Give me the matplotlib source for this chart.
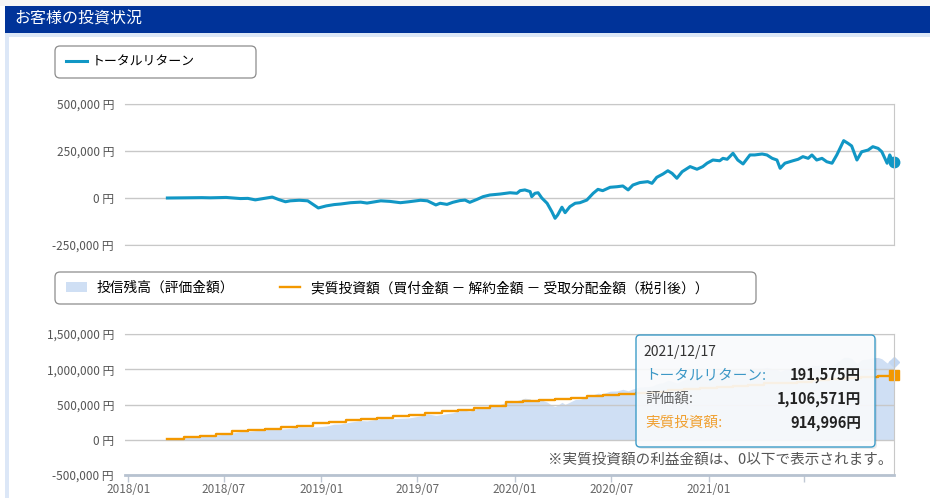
import numpy as np
import pandas as pd
import matplotlib
matplotlib.use("Agg")
import matplotlib.pyplot as plt
from matplotlib.patches import Rectangle, FancyBboxPatch
from matplotlib.ticker import FuncFormatter

plt.rcParams['font.family'] = ['Noto Sans CJK JP', 'DejaVu Sans']

# ---- data ----
ret_dates = [
    "2018-03-16", "2018-04-20", "2018-05-20", "2018-06-05", "2018-07-05", "2018-08-01",
    "2018-08-15", "2018-08-29", "2018-09-15", "2018-09-30", "2018-10-12", "2018-10-25",
    "2018-11-03", "2018-11-20", "2018-12-06", "2018-12-26", "2019-01-10", "2019-01-25",
    "2019-02-06", "2019-02-25", "2019-03-16", "2019-03-28", "2019-04-23", "2019-05-10",
    "2019-05-30", "2019-06-15", "2019-07-07", "2019-07-20", "2019-08-05", "2019-08-13",
    "2019-08-26", "2019-09-06", "2019-09-19", "2019-09-29", "2019-10-08", "2019-10-22",
    "2019-11-02", "2019-11-15", "2019-12-04", "2019-12-23", "2020-01-05", "2020-01-11",
    "2020-01-20", "2020-01-30", "2020-02-02", "2020-02-08", "2020-02-14", "2020-02-21",
    "2020-03-02", "2020-03-11", "2020-03-17", "2020-03-22", "2020-03-30", "2020-04-05",
    "2020-04-14", "2020-04-24", "2020-05-03", "2020-05-16", "2020-05-28", "2020-06-06",
    "2020-06-15", "2020-06-29", "2020-07-12", "2020-07-23", "2020-08-02", "2020-08-11",
    "2020-08-24", "2020-09-08", "2020-09-16", "2020-09-25", "2020-10-07", "2020-10-16",
    "2020-10-24", "2020-11-02", "2020-11-12", "2020-11-27", "2020-12-10", "2020-12-21",
    "2020-12-29", "2021-01-09", "2021-01-22", "2021-01-28", "2021-02-05", "2021-02-16",
    "2021-02-25", "2021-03-07", "2021-03-20", "2021-03-29", "2021-04-12", "2021-04-21",
    "2021-05-01", "2021-05-10", "2021-05-16", "2021-05-25", "2021-06-09", "2021-06-19",
    "2021-06-28", "2021-07-08", "2021-07-15", "2021-07-24", "2021-08-03", "2021-08-12",
    "2021-08-22", "2021-08-31", "2021-09-13", "2021-09-21", "2021-09-28", "2021-10-08",
    "2021-10-17", "2021-10-29", "2021-11-07", "2021-11-17", "2021-11-24", "2021-12-04",
    "2021-12-09", "2021-12-15", "2021-12-17",
]
ret_vals = [
    0, 1000, 2000, 1000, 3000, -3000,
    -2000, -10000, -2000, 5000, -8000, -20000,
    -15000, -12000, -15000, -53000, -42000, -35000,
    -32000, -25000, -22000, -27000, -15000, -18000,
    -25000, -20000, -12000, -15000, -37000, -28000,
    -34000, -23000, -14000, -11000, -23000, -7000,
    7000, 16000, 21000, 28000, 25000, 39000,
    43000, 34000, 7000, 25000, 28000, 0,
    -28000, -73000, -108000, -90000, -49000, -78000,
    -46000, -28000, -25000, -11000, 25000, 46000,
    39000, 57000, 60000, 64000, 43000, 69000,
    82000, 87000, 78000, 110000, 128000, 145000,
    131000, 105000, 140000, 167000, 153000, 167000,
    185000, 202000, 198000, 211000, 206000, 238000,
    202000, 181000, 229000, 229000, 234000, 229000,
    211000, 202000, 158000, 185000, 198000, 206000,
    220000, 211000, 229000, 202000, 211000, 193000,
    185000, 229000, 305000, 291000, 277000, 202000,
    246000, 255000, 273000, 264000, 246000, 185000,
    229000, 193000, 191575,
]

# monthly purchases (16th of each month): cumulative net invested amount
inv_dates = pd.date_range("2018-03-01", "2021-12-01", freq="MS") + pd.Timedelta(days=15)
inv_vals = [
    14000, 33000, 55000, 78000, 118000, 138000, 157000, 176000, 196000, 237000,
    256000, 276000, 295000, 315000, 330000, 350000, 382000, 405000, 428000, 452000,
    476000, 530000, 546000, 562000, 580000, 598000, 614000, 632000, 652000, 667000,
    683000, 699000, 714000, 738000, 753000, 768000, 783000, 798000, 812000, 826000,
    850000, 864000, 878000, 891000, 903000, 914996,
]

tick_dates = ["2018-01-01", "2018-07-01", "2019-01-01", "2019-07-01",
              "2020-01-01", "2020-07-01", "2021-01-01", "2021-07-01"]
tick_labels = ["2018/01", "2018/07", "2019/01", "2019/07",
               "2020/01", "2020/07", "2021/01", ""]

TEAL = "#1197c5"
ORANGE = "#f39800"
AREA = "#cfdff4"
GRID = "#c8c8c8"

ret_dates = pd.to_datetime(ret_dates)
ret_vals = np.array(ret_vals)
inv_vals = np.array(inv_vals)
# valuation = invested amount at that date + total return
idx = np.searchsorted(inv_dates.values, ret_dates.values, side="right") - 1
idx = np.clip(idx, 0, len(inv_vals) - 1)
val_vals = inv_vals[idx] + ret_vals

W, H = 930, 498
fig = plt.figure(figsize=(W / 100, H / 100), dpi=100)

# background / frame in pixel coordinates
bg = fig.add_axes([0, 0, 1, 1], zorder=0)
bg.set_xlim(0, W)
bg.set_ylim(H, 0)
bg.axis("off")
bg.add_patch(Rectangle((0, 0), W, 6, color="#f5f5f5", lw=0))
bg.add_patch(Rectangle((5, 33), W, H, color="#dce7f7", lw=0))
bg.add_patch(Rectangle((9, 37), W, H, color="white", lw=0))
bg.add_patch(Rectangle((5, 6), W, 27, color="#003399", lw=0))
bg.text(14, 19.5, "お客様の投資状況", color="white", fontsize=11.5, va="center", ha="left")
bg.add_patch(FancyBboxPatch((55, 46), 201, 32, boxstyle="round,pad=0,rounding_size=5",
                            fc="white", ec="#8c8c8c", lw=0.9))
bg.add_patch(FancyBboxPatch((55, 272), 701, 32, boxstyle="round,pad=0,rounding_size=5",
                            fc="white", ec="#8c8c8c", lw=0.9))

start = pd.Timestamp("2017-12-26")
end = ret_dates[-1]


def yen(v, pos):
    return f"{int(v):,} 円"


def px_axes(l, t, r, b):
    return fig.add_axes([l / W, 1 - b / H, (r - l) / W, (b - t) / H], zorder=2)


# ---- top: total return ----
ax1 = px_axes(125, 104, 894, 245)
ax1.patch.set_alpha(0)
ax1.plot(ret_dates, ret_vals, color=TEAL, lw=2.2, label="トータルリターン", solid_joinstyle="round")
ax1.plot(ret_dates[-1:], ret_vals[-1:], "o", color=TEAL, ms=7.5, clip_on=False)
ax1.set_xlim(start, end)
ax1.set_ylim(-250000, 500000)
ax1.set_yticks([-250000, 0, 250000, 500000])
ax1.yaxis.set_major_formatter(FuncFormatter(yen))
ax1.set_xticks([])
ax1.yaxis.grid(True, color=GRID, lw=1)
ax1.tick_params(axis="y", length=0, pad=8, labelsize=8.5, labelcolor="#555555")
ax1.spines["left"].set_visible(False)
for s in ["top", "bottom", "right"]:
    ax1.spines[s].set_color(GRID)
ax1.legend(loc="center left", bbox_to_anchor=(66 / W, 1 - 62 / H), bbox_transform=fig.transFigure,
           frameon=False, fontsize=9.3, handlelength=1.6, handletextpad=0.4,
           borderpad=0, borderaxespad=0)

# ---- bottom: valuation and net invested ----
ax2 = px_axes(125, 334, 894, 475)
ax2.patch.set_alpha(0)
ax2.fill_between(ret_dates, 0, val_vals, color=AREA, lw=0, label="投信残高（評価金額）")
step_x = list(inv_dates) + [end]
step_y = list(inv_vals) + [inv_vals[-1]]
ax2.step(step_x, step_y, where="post", color=ORANGE, lw=1.7,
         label="実質投資額（買付金額 － 解約金額 － 受取分配金額（税引後））")
ax2.plot([end], [val_vals[-1]], "D", color="#c3d7f2", ms=5.5, clip_on=False)
ax2.plot([end], [inv_vals[-1]], "s", color=ORANGE, ms=7, clip_on=False)
ax2.set_xlim(start, end)
ax2.set_ylim(-500000, 1500000)
ax2.set_yticks([-500000, 0, 500000, 1000000, 1500000])
ax2.yaxis.set_major_formatter(FuncFormatter(yen))
ax2.set_xticks(pd.to_datetime(tick_dates))
ax2.set_xticklabels(tick_labels)
ax2.yaxis.grid(True, color=GRID, lw=1)
ax2.tick_params(axis="y", length=0, pad=8, labelsize=8.5, labelcolor="#555555")
ax2.tick_params(axis="x", length=5, width=1, color="#c0c8d4", pad=1, labelsize=8.5, labelcolor="#666666")
ax2.spines["left"].set_visible(False)
ax2.spines["top"].set_color(GRID)
ax2.spines["right"].set_color(GRID)
ax2.spines["bottom"].set_color("#b7c2d0")
ax2.spines["bottom"].set_linewidth(2)
ax2.legend(loc="center left", bbox_to_anchor=(66 / W, 1 - 288 / H), bbox_transform=fig.transFigure,
           ncol=2, frameon=False, fontsize=9.9, handlelength=1.5, handletextpad=0.75,
           columnspacing=3.3, borderpad=0, borderaxespad=0)

# ---- tooltip and note (pixel coordinates) ----
fg = fig.add_axes([0, 0, 1, 1], zorder=5)
fg.set_xlim(0, W)
fg.set_ylim(H, 0)
fg.axis("off")
fg.text(892, 460, "※実質投資額の利益金額は、0以下で表示されます。", ha="right", va="center",
        fontsize=10.5, color="#555555")
fg.add_patch(FancyBboxPatch((638, 337), 239, 112, boxstyle="round,pad=0,rounding_size=4",
                            fc="#000000", alpha=0.08, lw=0))
fg.add_patch(FancyBboxPatch((636, 335), 239, 112, boxstyle="round,pad=0,rounding_size=4",
                            fc="#fbfcfe", alpha=0.9, ec="none"))
fg.add_patch(FancyBboxPatch((636, 335), 239, 112, boxstyle="round,pad=0,rounding_size=4",
                            fc="none", ec="#3d9cc8", lw=1))
fg.text(643, 352, end.strftime("%Y/%m/%d"), fontsize=10, color="#333333", va="center")
rows = [("トータルリターン:", ret_vals[-1], "#3b97c6", 375),
        ("評価額:", val_vals[-1], "#666666", 399),
        ("実質投資額:", inv_vals[-1], "#f0a030", 423)]
for name, v, c, y in rows:
    fg.text(645, y, name, fontsize=10.5, color=c, va="center")
    fg.text(861, y, f"{int(v):,}円", fontsize=10.5, color="#222222", va="center",
            ha="right", fontweight="bold")

fig.savefig("out.png", dpi=100)
